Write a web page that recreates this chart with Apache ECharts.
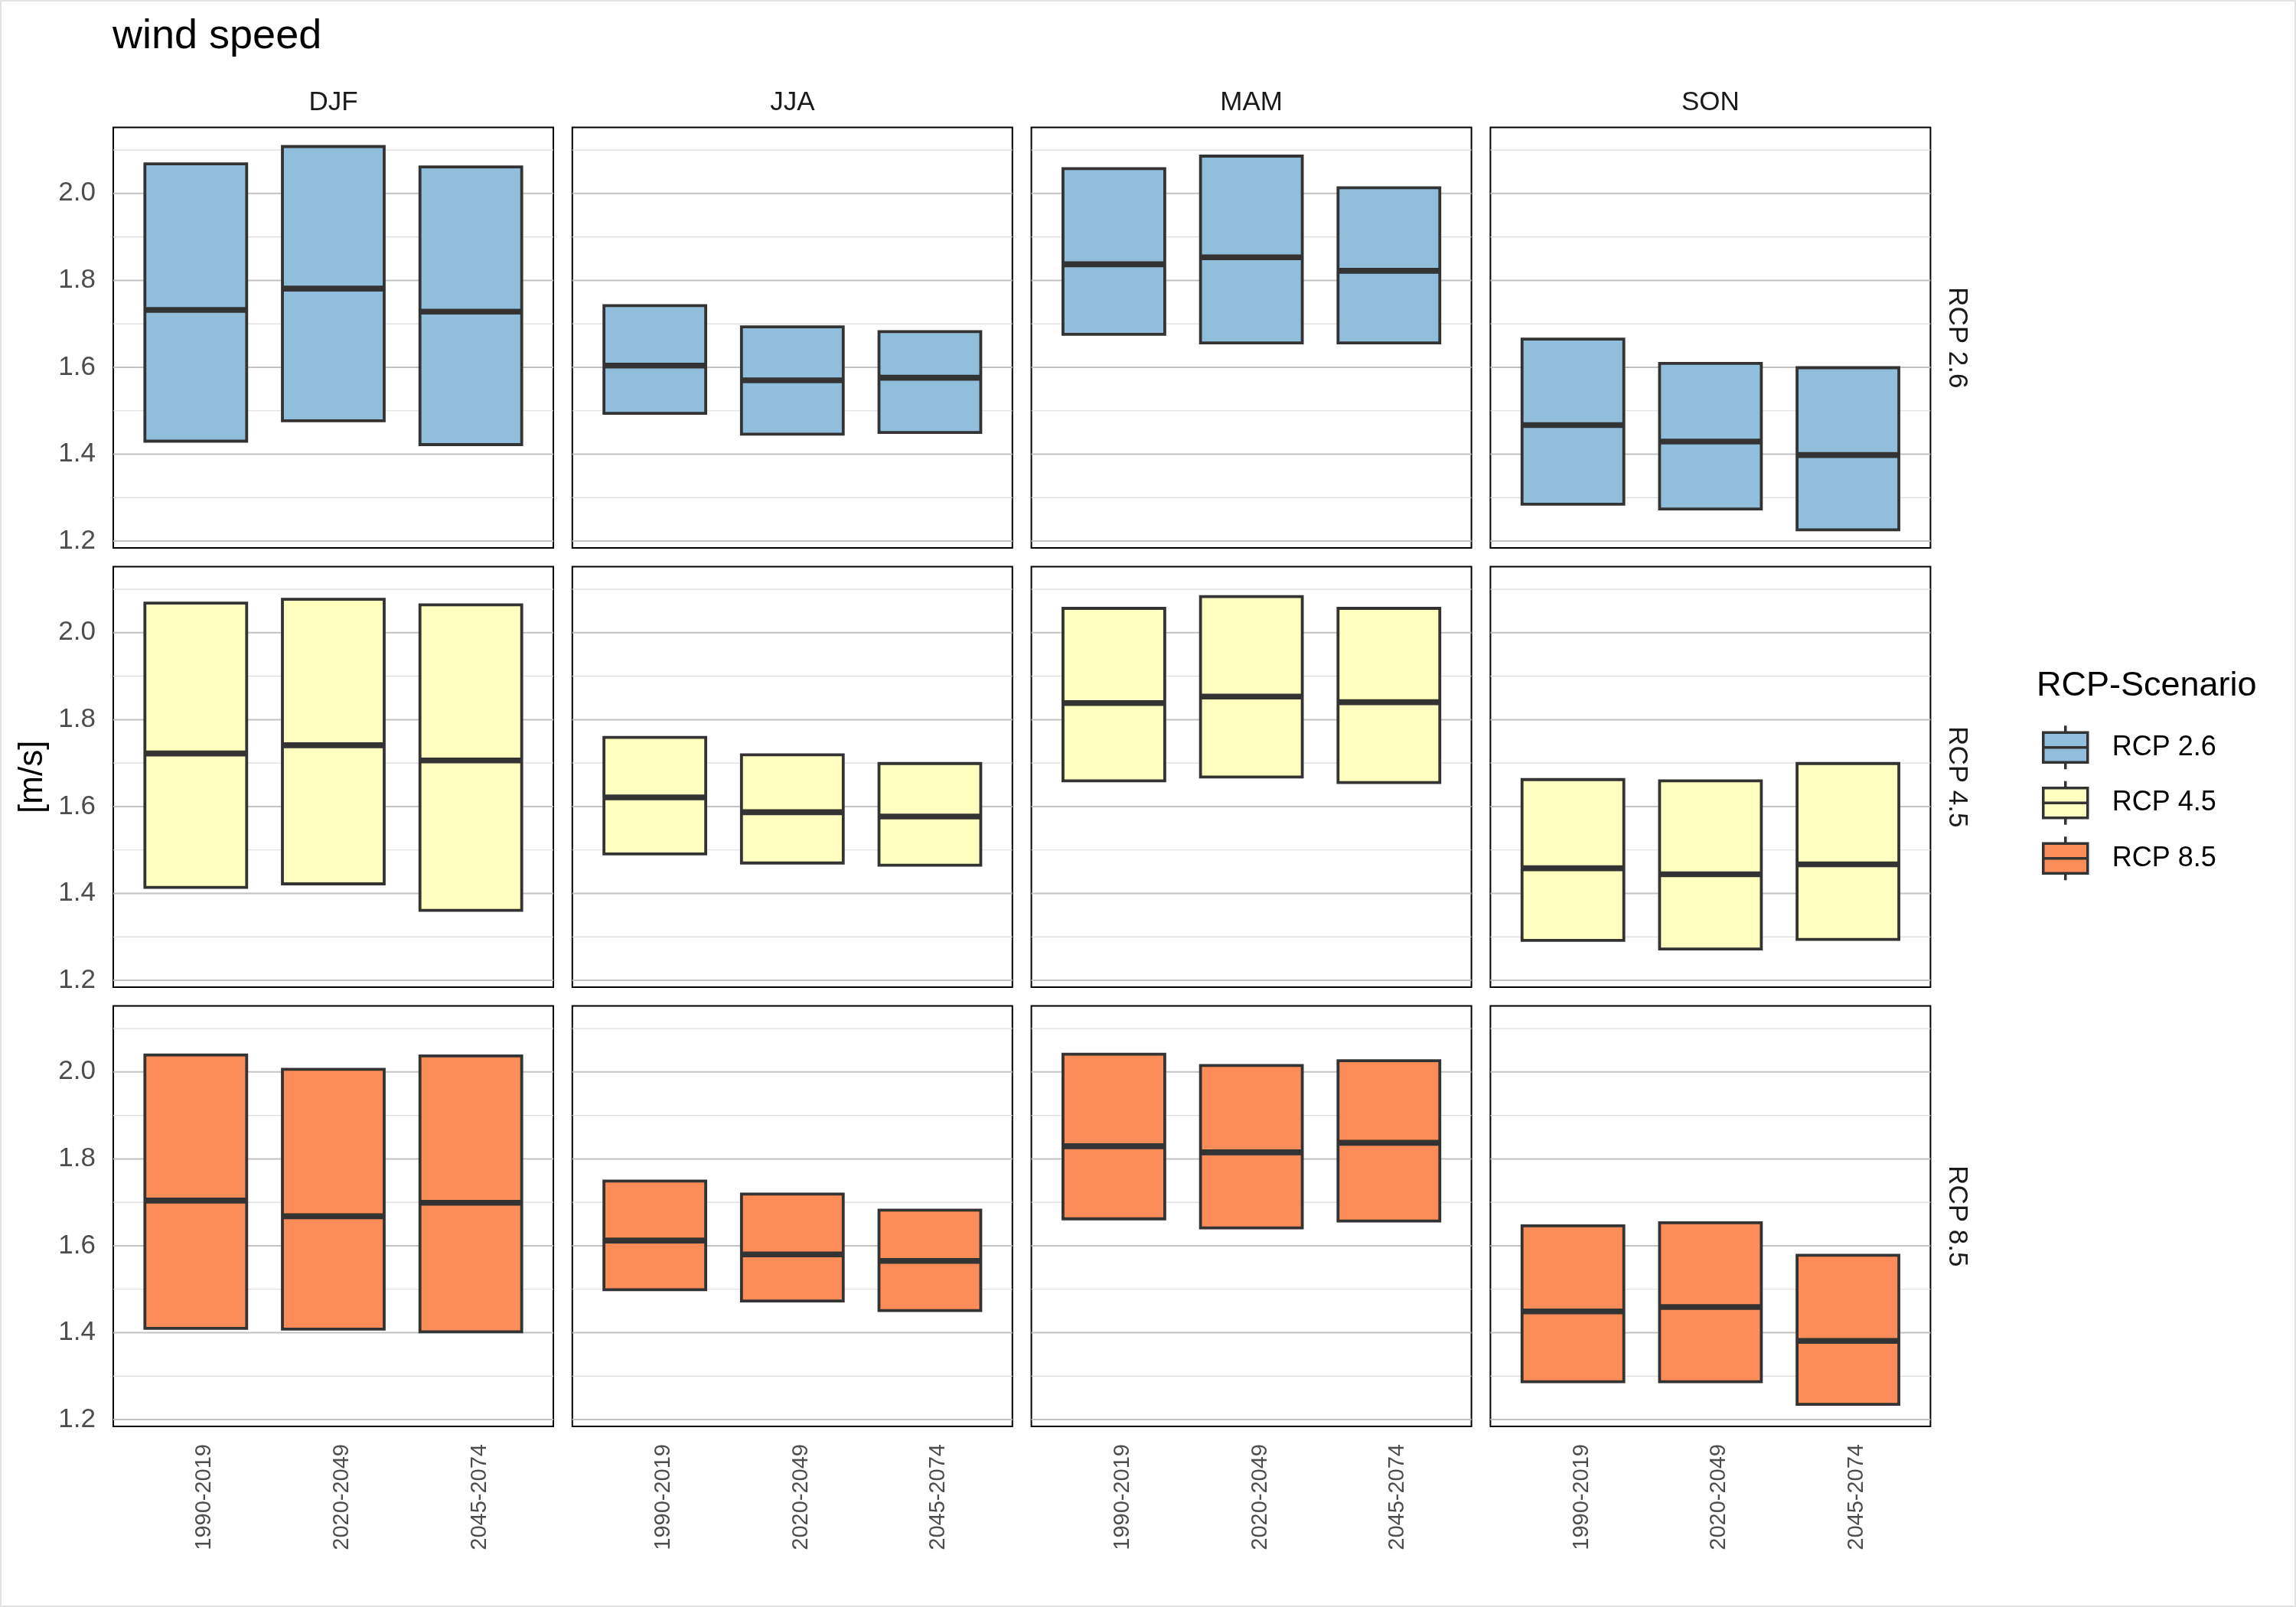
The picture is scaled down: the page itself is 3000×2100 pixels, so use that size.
<!DOCTYPE html>
<html>
<head>
<meta charset="utf-8">
<script src="https://cdn.jsdelivr.net/npm/echarts@6/dist/echarts.min.js"></script>
<style>html,body{margin:0;padding:0;background:#fff}#chart{width:3000px;height:2100px}</style>
</head>
<body>
<div id="chart"></div>
<script>
// ---------- data ----------
const seasons = ['DJF', 'JJA', 'MAM', 'SON'];
const scenarios = ['RCP 2.6', 'RCP 4.5', 'RCP 8.5'];
const periods = ['1990-2019', '2020-2049', '2045-2074'];
const yTicks = [1.2, 1.4, 1.6, 1.8, 2.0];
const yMinorTicks = [1.3, 1.5, 1.7, 1.9, 2.1];

// values ordered: DJF(3 periods), JJA(3), MAM(3), SON(3)
const rcp26Low  = [1.430, 1.477, 1.422,  1.494, 1.446, 1.450,  1.676, 1.656, 1.656,  1.285, 1.274, 1.226];
const rcp26Mid  = [1.732, 1.781, 1.728,  1.604, 1.570, 1.576,  1.837, 1.853, 1.822,  1.467, 1.429, 1.398];
const rcp26High = [2.068, 2.108, 2.061,  1.742, 1.693, 1.682,  2.057, 2.086, 2.013,  1.665, 1.609, 1.599];

const rcp45Low  = [1.414, 1.422, 1.361,  1.491, 1.470, 1.465,  1.659, 1.668, 1.655,  1.292, 1.272, 1.294];
const rcp45Mid  = [1.722, 1.741, 1.706,  1.621, 1.587, 1.577,  1.838, 1.853, 1.840,  1.458, 1.444, 1.467];
const rcp45High = [2.068, 2.077, 2.064,  1.759, 1.719, 1.699,  2.056, 2.083, 2.056,  1.662, 1.659, 1.699];

const rcp85Low  = [1.410, 1.408, 1.402,  1.499, 1.473, 1.451,  1.662, 1.641, 1.657,  1.287, 1.287, 1.235];
const rcp85Mid  = [1.704, 1.668, 1.699,  1.612, 1.580, 1.565,  1.829, 1.815, 1.837,  1.449, 1.459, 1.381];
const rcp85High = [2.039, 2.006, 2.037,  1.749, 1.719, 1.682,  2.041, 2.015, 2.026,  1.646, 1.653, 1.578];

const scenarioLow  = [rcp26Low, rcp45Low, rcp85Low];
const scenarioMid  = [rcp26Mid, rcp45Mid, rcp85Mid];
const scenarioHigh = [rcp26High, rcp45High, rcp85High];

// ---------- style / layout ----------
const colors = ['#91BFDB', '#FFFFBF', '#FC8D59'];
const FONT = 'Liberation Sans, Arial, sans-serif';
const PANEL_LEFT = 148, PANEL_STEP_X = 599.8, PANEL_W = 575;
const PANEL_TOP = 166.5, PANEL_STEP_Y = 574, PANEL_H = 549.5;
const Y_MIN = 1.1843, Y_MAX = 2.152;
const X_MIN = 0.4, X_MAX = 3.6;
const HALF = 0.37;

const grids = [], xAxes = [], yAxes = [], series = [], graphics = [];

function gridRenderer(major) {
  return function (params, api) {
    const v = api.value(0);
    const p = api.coord([X_MIN, v]);
    const cs = params.coordSys;
    return {
      type: 'line',
      shape: { x1: cs.x, y1: p[1], x2: cs.x + cs.width, y2: p[1] },
      style: { stroke: major ? '#c2c2c2' : '#dcdcdc', lineWidth: major ? 2 : 1.2 },
      silent: true
    };
  };
}

function boxRenderer(color) {
  return function (params, api) {
    const x = api.value(0), lo = api.value(1), med = api.value(2), hi = api.value(3);
    const a = api.coord([x - HALF, hi]);
    const b = api.coord([x + HALF, lo]);
    const m1 = api.coord([x - HALF, med]);
    const m2 = api.coord([x + HALF, med]);
    return {
      type: 'group',
      children: [
        { type: 'rect', shape: { x: a[0], y: a[1], width: b[0] - a[0], height: b[1] - a[1] },
          style: { fill: color, stroke: '#333333', lineWidth: 3.8 } },
        { type: 'line', shape: { x1: m1[0], y1: m1[1], x2: m2[0], y2: m2[1] },
          style: { stroke: '#333333', lineWidth: 7.6, lineCap: 'butt' } }
      ]
    };
  };
}

let gi = 0;
for (let r = 0; r < scenarios.length; r++) {
  for (let c = 0; c < seasons.length; c++) {
    grids.push({
      left: PANEL_LEFT + c * PANEL_STEP_X, top: PANEL_TOP + r * PANEL_STEP_Y,
      width: PANEL_W, height: PANEL_H,
      show: true, borderColor: '#000', borderWidth: 2, backgroundColor: 'transparent'
    });
    xAxes.push({
      gridIndex: gi, type: 'value', min: X_MIN, max: X_MAX,
      axisLine: { show: false }, axisTick: { show: false }, splitLine: { show: false },
      axisLabel: {
        show: r === scenarios.length - 1, customValues: [1, 2, 3], rotate: 90, margin: 23,
        fontSize: 29, color: '#4d4d4d', fontFamily: FONT, verticalAlign: 'top', lineHeight: 23,
        formatter: v => periods[Math.round(v) - 1]
      }
    });
    yAxes.push({
      gridIndex: gi, type: 'value', min: Y_MIN, max: Y_MAX,
      axisLine: { show: false }, axisTick: { show: false }, splitLine: { show: false },
      axisLabel: {
        show: c === 0, customValues: yTicks, margin: 23,
        fontSize: 35, color: '#4d4d4d', fontFamily: FONT,
        formatter: v => v.toFixed(1)
      }
    });
    series.push({
      type: 'custom', xAxisIndex: gi, yAxisIndex: gi, z: 1, silent: true,
      renderItem: gridRenderer(false), data: yMinorTicks.map(v => [v]),
      encode: { x: 0 }
    });
    series.push({
      type: 'custom', xAxisIndex: gi, yAxisIndex: gi, z: 1, silent: true,
      renderItem: gridRenderer(true), data: yTicks.map(v => [v]),
      encode: { x: 0 }
    });
    const data = periods.map((p, i) => {
      const k = c * periods.length + i;
      return [i + 1, scenarioLow[r][k], scenarioMid[r][k], scenarioHigh[r][k]];
    });
    series.push({
      type: 'custom', name: scenarios[r], xAxisIndex: gi, yAxisIndex: gi, z: 3,
      itemStyle: { color: colors[r], borderColor: '#333333' },
      renderItem: boxRenderer(colors[r]), data: data,
      encode: { x: 0, y: [1, 2, 3] }
    });
    gi++;
  }
}

// strip labels (top)
seasons.forEach((s, c) => {
  graphics.push({
    type: 'text', x: PANEL_LEFT + c * PANEL_STEP_X + PANEL_W / 2, y: 134,
    style: { text: s, fontSize: 35, fill: '#1a1a1a', fontFamily: FONT, align: 'center', verticalAlign: 'middle' }
  });
});
// strip labels (right)
scenarios.forEach((s, r) => {
  graphics.push({
    type: 'text', x: 2557, y: PANEL_TOP + r * PANEL_STEP_Y + PANEL_H / 2, rotation: -Math.PI / 2,
    style: { text: s, fontSize: 35, fill: '#1a1a1a', fontFamily: FONT, align: 'center', verticalAlign: 'middle' }
  });
});
// y axis title
graphics.push({
  type: 'text', x: 43, y: PANEL_TOP + (PANEL_STEP_Y * 2 + PANEL_H) / 2, rotation: Math.PI / 2,
  style: { text: '[m/s]', fontSize: 44, fill: '#000', fontFamily: FONT, align: 'center', verticalAlign: 'middle' }
});
// outer frame
graphics.push({
  type: 'rect', shape: { x: 1, y: 1, width: 2998, height: 2098 },
  style: { fill: 'none', stroke: '#e3e3e3', lineWidth: 2 }, silent: true
});

const chart = echarts.init(document.getElementById('chart'), null, { renderer: 'canvas' });
chart.setOption({
  animation: false,
  backgroundColor: '#ffffff',
  textStyle: { fontFamily: FONT },
  title: [
    { text: 'wind speed', left: 147, top: 21, padding: 0,
      textStyle: { fontSize: 54, fontWeight: 'normal', color: '#000', fontFamily: FONT } },
    { text: 'RCP-Scenario', left: 2661, top: 874, padding: 0,
      textStyle: { fontSize: 45, fontWeight: 'normal', color: '#000', fontFamily: FONT } }
  ],
  legend: {
    data: scenarios, orient: 'vertical', left: 2668, top: 946.5, padding: 0,
    itemWidth: 58, itemHeight: 57, itemGap: 12, selectedMode: false,
    icon: 'path://M29,0 L29,9 M0,9 L58,9 L58,48 L0,48 Z M0,28.5 L58,28.5 M29,48 L29,57',
    itemStyle: { borderColor: '#333333', borderWidth: 3.5 },
    textStyle: { fontSize: 36, color: '#000', fontFamily: FONT, padding: [0, 0, 0, 27] }
  },
  grid: grids,
  xAxis: xAxes,
  yAxis: yAxes,
  series: series,
  graphic: graphics
});
</script>
</body>
</html>
